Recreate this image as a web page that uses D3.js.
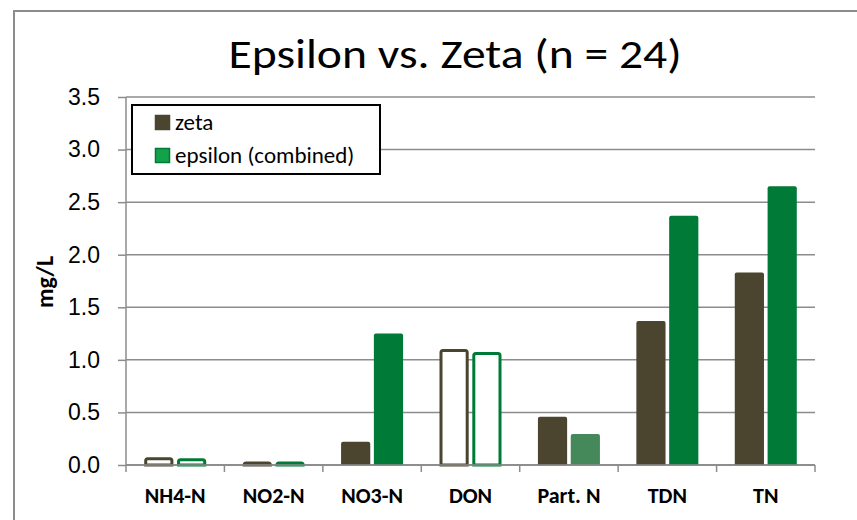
<!DOCTYPE html>
<meta charset="utf-8">
<style>
body { margin: 0; background: #fff; }
svg { font-family: Carlito, Lato, "Open Sans", sans-serif; }
.grid line { stroke: #8c8c8c; stroke-width: 1.5px; }
.axis path, .axis line { stroke: #8c8c8c; stroke-width: 1.5px; }
.axis text { fill: #000; }
</style>
<svg width="857" height="520"></svg>
<script src="https://d3js.org/d3.v7.min.js"></script>
<script>

var categories = ["NH4-N", "NO2-N", "NO3-N", "DON", "Part. N", "TDN", "TN"];
var zeta = [0.06, 0.02, 0.22, 1.09, 0.46, 1.37, 1.83];
var epsilon = [0.05, 0.02, 1.25, 1.06, 0.295, 2.37, 2.65];
// which categories are drawn as outlined bars
var hollow = [true, true, false, true, false, false, false];
var yTicks = [0, 0.5, 1.0, 1.5, 2.0, 2.5, 3.0, 3.5];
var seriesNames = ["zeta", "epsilon (combined)"];

var svg = d3.select("svg");
var pLeft = 126, pRight = 815, pTop = 97, pBottom = 465;

var zetaColor = "#4b4530", epsColor = "#007a37", epsLight = "#45895a";

// outer frame
svg.append("path")
    .attr("d", "M14,520V11H857")
    .attr("fill", "none")
    .attr("stroke", "#8c8c8c")
    .attr("stroke-width", 2);

var x = d3.scaleBand().domain(categories).range([pLeft, pRight]).paddingInner(0.37).paddingOuter(0.185);
var x1 = d3.scaleBand().domain([0, 1]).range([0, x.bandwidth()]).paddingInner(0.11);
var y = d3.scaleLinear().domain([0, 3.5]).range([pBottom, pTop]);

svg.append("g").attr("class", "grid")
  .selectAll("line").data(yTicks).enter().append("line")
    .attr("x1", pLeft).attr("x2", pRight)
    .attr("y1", function(d) { return y(d); })
    .attr("y2", function(d) { return y(d); });

svg.append("g").attr("class", "axis")
    .attr("transform", "translate(" + pLeft + ",0)")
    .call(d3.axisLeft(y).tickValues(yTicks).tickFormat(d3.format(".1f")).tickSize(8).tickPadding(18))
    .call(function(g) { g.select(".domain").attr("d", "M0," + pBottom + "V" + pTop); })
    .selectAll("text").style("font-size", "23px").attr("font-family", null);

// x axis with ticks at category boundaries
var bounds = d3.range(categories.length + 1).map(function(i) { return pLeft + i * (pRight - pLeft) / categories.length; });
var xa = svg.append("g").attr("class", "axis");
xa.append("line").attr("x1", pLeft).attr("x2", pRight).attr("y1", pBottom).attr("y2", pBottom);
xa.selectAll(".tk").data(bounds).enter().append("line").attr("class", "tk")
    .attr("x1", function(d) { return d; }).attr("x2", function(d) { return d; })
    .attr("y1", pBottom).attr("y2", pBottom + 7);
xa.selectAll("text").data(categories).enter().append("text")
    .attr("x", function(d) { return x(d) + x.bandwidth() / 2; })
    .attr("y", 503)
    .attr("text-anchor", "middle")
    .style("font-size", "22px").style("font-weight", "bold")
    .text(function(d) { return d; });

function barPath(x0, w, v) {
  var y0 = y(v), r = 2;
  var h = pBottom - y0;
  if (h < r) r = h / 2;
  return "M" + x0 + "," + pBottom + "V" + (y0 + r) + "Q" + x0 + "," + y0 + " " + (x0 + r) + "," + y0 +
    "H" + (x0 + w - r) + "Q" + (x0 + w) + "," + y0 + " " + (x0 + w) + "," + (y0 + r) + "V" + pBottom + "Z";
}

var groups = svg.append("g").selectAll("g").data(categories).enter().append("g")
    .attr("transform", function(d) { return "translate(" + x(d) + ",0)"; });

groups.each(function(d, i) {
  var g = d3.select(this);
  [zeta[i], epsilon[i]].forEach(function(v, s) {
    var col = s === 0 ? zetaColor : (d === "Part. N" ? epsLight : epsColor);
    var bx = x1(s), w = x1.bandwidth();
    if (hollow[i]) {
      g.append("path").attr("d", barPath(bx + 1.5, w - 3, v))
        .attr("fill", "#fff").attr("stroke", col).attr("stroke-width", 3);
    } else {
      g.append("path").attr("d", barPath(bx, w, v)).attr("fill", col);
    }
  });
});

// base line over the bars
svg.append("line").attr("x1", pLeft).attr("x2", pRight).attr("y1", pBottom).attr("y2", pBottom)
    .attr("stroke", "#8c8c8c").attr("stroke-width", 1.5);

// title (slightly stretched like the original)
svg.append("text").attr("transform", "translate(455,68) scale(1.19,1)").attr("text-anchor", "middle")
    .style("font-size", "40px").text("Epsilon vs. Zeta (n = 24)");

// y label
svg.append("text").attr("transform", "translate(53,282) rotate(-90)")
    .attr("text-anchor", "middle").style("font-size", "24px").style("font-weight", "bold")
    .text("mg/L");

// legend
var lg = svg.append("g");
lg.append("rect").attr("x", 132).attr("y", 105).attr("width", 248).attr("height", 69)
    .attr("fill", "#fff").attr("stroke", "#000").attr("stroke-width", 2);
var lcol = [zetaColor, epsColor];
seriesNames.forEach(function(n, i) {
  var yy = 115 + i * 33;
  lg.append("rect").attr("x", 155.5).attr("y", yy + 0.5).attr("width", 14).attr("height", 14)
    .attr("fill", i === 0 ? zetaColor : "#12a34a").attr("stroke", lcol[i]).attr("stroke-width", 1.5);
  lg.append("text").attr("x", 175).attr("y", yy + 14.5).style("font-size", "23px").text(n);
});

</script>
